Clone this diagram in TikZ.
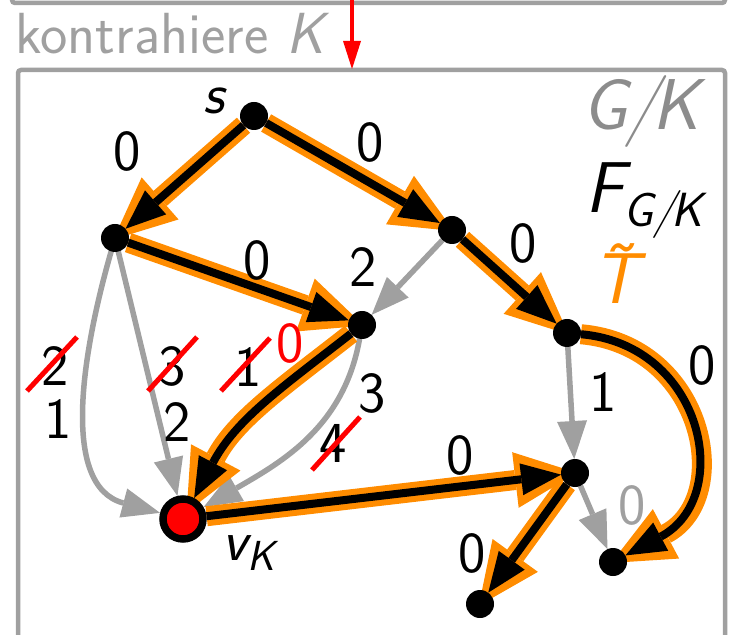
\documentclass[tikz,border=0pt]{standalone}
\usetikzlibrary{arrows.meta,backgrounds}
\definecolor{lgray}{HTML}{A0A0A0}
\definecolor{tgray}{HTML}{8C8C8C}
\definecolor{orng}{HTML}{FF8C00}
\tikzset{
  dot/.style={circle, fill=black, minimum size=14pt, inner sep=0pt, outer sep=0pt},
  vknode/.style={circle, fill=red, draw=black, line width=3.75pt, minimum size=20pt, inner sep=0pt},
  lbl/.style={inner sep=0pt, font=\fontsize{29}{34}\selectfont\sffamily},
  biglbl/.style={inner sep=0pt, anchor=base west, font=\fontsize{36}{40}\selectfont\sffamily\itshape},
  grayedge/.style={draw=lgray, line width=2.75pt, -{Triangle[length=19pt,width=15pt,line width=0pt]}},
  treeedge/.style={draw=black, line width=4pt, -{Triangle[length=20pt,width=16pt,line width=0pt]},
    preaction={draw=orng, line width=10pt, shorten >=-8pt, -{Triangle[length=31pt,width=28pt,line width=0pt]}}},
  strike/.style={draw=red, line width=2.5pt},
  boxline/.style={draw=lgray, line width=2.25pt, rounded corners=1.5pt},
  redarrow/.style={draw=red, line width=2pt, -{Triangle[length=14pt,width=9pt,line width=0pt]}},
}
\begin{document}
\begin{tikzpicture}[x=0.5pt,y=-0.5pt]
\useasboundingbox (0,0) rectangle (732,635);
% boxes
\draw[boxline] (12,-50) rectangle (725,3);
\draw[boxline] (18,70) rectangle (725,690);
\coordinate (rtop) at (352,-6);
\coordinate (rbot) at (352,69);
\draw[redarrow] (rtop) -- (rbot);
\node[lbl, anchor=base west, text=lgray, font=\fontsize{29}{33}\selectfont\sffamily] (kt) at (15,54) {kontrahiere \textit{K}};
% nodes
\node[dot] (s) at (254,116) {};
\node[dot] (a) at (115,238) {};
\node[dot] (b) at (452,230) {};
\node[dot] (c) at (362,325) {};
\node[dot] (d) at (567,333) {};
\node[vknode] (vk) at (183,519) {};
\node[dot] (e) at (575,473) {};
\node[dot] (f) at (480,604) {};
\node[dot] (g) at (613,562) {};
% edges
\begin{scope}[on background layer]
\draw[grayedge] (a) to[out=-106,in=165,looseness=1.0] (vk);
\draw[grayedge] (a) -- (vk);
\draw[grayedge] (c) to[out=-100,in=30] (vk);
\draw[grayedge] (b) -- (c);
\draw[grayedge] (d) -- (e);
\draw[grayedge] (e) -- (g);
\draw[treeedge] (a) -- (c);
\draw[treeedge] (s) -- (a);
\draw[treeedge] (b) -- (d);
\draw[treeedge] (s) -- (b);
\draw[treeedge] (c) to[out=-142,in=62] (vk);
\draw[treeedge] (e) -- (f);
\draw[treeedge] (vk) -- (e);
\draw[treeedge] (d) to[out=-5,in=28,looseness=1.4] (g);
\end{scope}
% node labels
\node[lbl, font=\fontsize{29}{34}\selectfont\sffamily\itshape] (sl) at (214,101) {s};
\node[lbl, anchor=base west, font=\fontsize{29}{34}\selectfont\sffamily\itshape] (vl) at (222,560) {v\raisebox{-5pt}{\fontsize{21}{24}\selectfont K}};
% legend
\node[biglbl, text=tgray] (gk) at (582,130) {G\kern-1pt/\kern-3.5pt K};
\node[biglbl, text=black] (fgk) at (585,213) {F\raisebox{-7pt}{\fontsize{24}{28}\selectfont G\kern-0.5pt/\kern-2pt K}};
\node[biglbl, text=orng] (tt) at (592,304) {\rlap{\kern2pt\raisebox{6pt}{\char"02DC}}T};
% edge labels
\node[lbl] (l1) at (127,151) {0};
\node[lbl] (l2) at (370,142) {0};
\node[lbl] (l3) at (257,260) {0};
\node[lbl] (l4) at (363,267) {2};
\node[lbl] (l5) at (523,243) {0};
\node[lbl] (l6) at (55,366) {2};
\draw[strike] ([shift={(-28,25)}]l6.center) -- ([shift={(22,-29)}]l6.center);
\node[lbl] (l7) at (58,419) {1};
\node[lbl] (l8) at (172,366) {3};
\draw[strike] ([shift={(-24,25)}]l8.center) -- ([shift={(25,-29)}]l8.center);
\node[lbl] (l9) at (177,422) {2};
\node[lbl] (l10) at (248,367) {1};
\draw[strike] ([shift={(-27,24)}]l10.center) -- ([shift={(22,-29)}]l10.center);
\node[lbl, text=red] (l11) at (290,343) {0};
\node[lbl] (l12) at (372,393) {3};
\node[lbl] (l13) at (333,443) {4};
\draw[strike] ([shift={(-21,27)}]l13.center) -- ([shift={(27,-26)}]l13.center);
\node[lbl] (l14) at (460,455) {0};
\node[lbl] (l15) at (603,392) {1};
\node[lbl] (l16) at (702,365) {0};
\node[lbl] (l17) at (472,553) {0};
\node[lbl, text=lgray] (l18) at (632,505) {0};
\end{tikzpicture}
\end{document}
